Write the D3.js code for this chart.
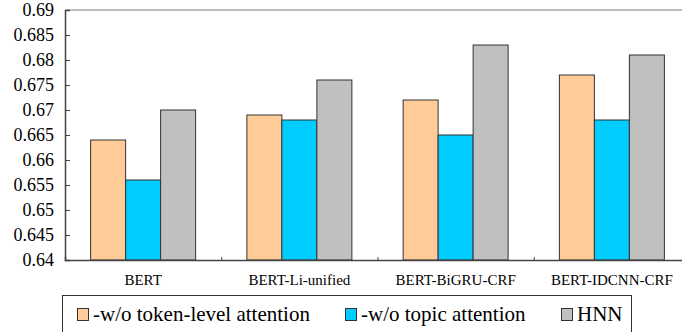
<!DOCTYPE html>
<html><head><meta charset="utf-8">
<script src="https://cdn.jsdelivr.net/npm/d3@7"></script>
</head>
<body style="margin:0;background:#fff"><svg id="c" width="682" height="332"></svg>
<script>
const categories = ["BERT", "BERT-Li-unified", "BERT-BiGRU-CRF", "BERT-IDCNN-CRF"];
const seriesNames = ["-w/o token-level attention", "-w/o topic attention", "HNN"];
const tokenLevel = [0.664, 0.669, 0.672, 0.677];
const topicAttn  = [0.656, 0.668, 0.665, 0.668];
const hnn        = [0.670, 0.676, 0.683, 0.681];
const yTicks = [0.64, 0.645, 0.65, 0.655, 0.66, 0.665, 0.67, 0.675, 0.68, 0.685, 0.69];
const colors = ["#FFCC99", "#00CCFF", "#C0C0C0"];

const FONT = "Liberation Serif";
const setFont = sel => sel.attr("font-family", FONT)
  .each(function () { this.style.setProperty("font-family", "'Liberation Serif', serif", "important"); });
const series = [tokenLevel, topicAttn, hnn];
const svg = d3.select("#c");
const mL = 65, mR = 690, mT = 10, mB = 260;

const x = d3.scaleBand().domain(categories).range([mL, mR]).paddingInner(0).paddingOuter(0);
const barW = 35;
const xi = d3.scaleBand().domain(d3.range(series.length)).range([0, barW * series.length]);
const y = d3.scaleLinear().domain([0.64, 0.69]).range([mB, mT]);

svg.append("line").attr("x1", mL).attr("x2", mR).attr("y1", y(0.69)).attr("y2", y(0.69))
  .attr("stroke", "#a8a8a8").attr("stroke-width", 1.5);

const groupOffset = (x.bandwidth() - barW * series.length) / 2;
series.forEach((vals, si) => {
  svg.append("g").selectAll("rect").data(vals).join("rect")
    .attr("x", (d, i) => x(categories[i]) + groupOffset + xi(si))
    .attr("y", d => y(d))
    .attr("width", xi.bandwidth())
    .attr("height", d => y(0.64) - y(d))
    .attr("fill", colors[si])
    .attr("stroke", "#333").attr("stroke-width", 1);
});

const yAxis = d3.axisLeft(y).tickValues(yTicks).tickSize(-5).tickPadding(11)
  .tickFormat(d => String(+d.toFixed(3)));
const gy = svg.append("g").attr("transform", `translate(${mL},0)`).call(yAxis);
gy.attr("font-size", 18);
gy.select(".domain").attr("stroke", "#444").attr("stroke-width", 1.5);
gy.selectAll(".tick line").attr("stroke", "#444");
gy.selectAll(".tick text").attr("fill", "#000").call(setFont);
setFont(gy);

const boundaries = categories.slice(1).map(c => x(c));
const xAxis = d3.axisBottom(d3.scaleLinear().domain([mL, mR]).range([mL, mR]))
  .tickValues(boundaries).tickSize(-3).tickFormat("");
const gx = svg.append("g").attr("transform", `translate(0,${mB})`).call(xAxis);
gx.select(".domain").attr("stroke", "#444").attr("stroke-width", 1.5);
gx.selectAll(".tick line").attr("stroke", "#444");

svg.append("g").selectAll("text").data(categories).join("text")
  .attr("x", d => x(d) + x.bandwidth() / 2).attr("y", 285)
  .attr("text-anchor", "middle").attr("font-size", 15).text(d => d).call(setFont);

const lg = svg.append("g");
lg.append("rect").attr("x", 62.5).attr("y", 295.5).attr("width", 569).attr("height", 50)
  .attr("fill", "none").attr("stroke", "#333").attr("stroke-width", 1);
const legendX = [77, 345, 561];
seriesNames.forEach((n, i) => {
  lg.append("rect").attr("x", legendX[i] + 0.5).attr("y", 308.5).attr("width", 11).attr("height", 12)
    .attr("fill", colors[i]).attr("stroke", "#333").attr("stroke-width", 1);
  lg.append("text").attr("x", legendX[i] + 16).attr("y", 321)
    .attr("font-size", 21).text(n).call(setFont);
});
</script></body></html>
